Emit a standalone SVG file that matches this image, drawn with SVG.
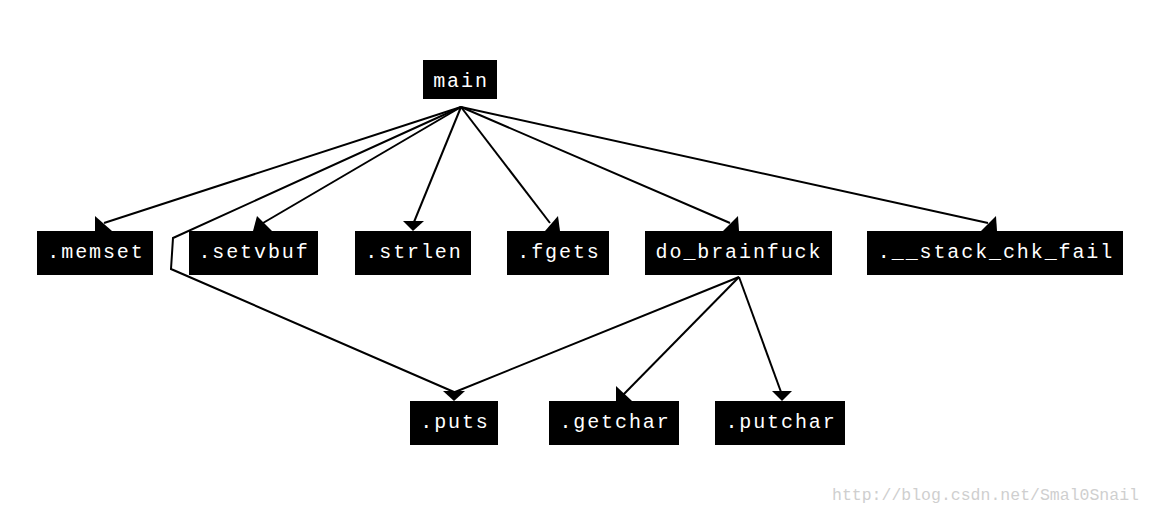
<svg xmlns="http://www.w3.org/2000/svg" width="1153" height="514" viewBox="0 0 1153 514">
<style>
.edge{fill:none;stroke:#000;stroke-width:2}
.ah{fill:#000;stroke:none}
.box{fill:#000}
.lbl{fill:#fff;font-family:"Liberation Mono",monospace;font-size:20px;letter-spacing:1.9px;text-anchor:middle}
.wm{fill:#cfcfcf;font-family:"Liberation Mono",monospace;font-size:16.5px}
</style>
<rect width="1153" height="514" fill="#fff"/>
<g id="edges">
<polyline class="edge" points="461,107 104,223"/>
<polyline class="edge" points="461,107 263,223"/>
<polyline class="edge" points="461,107 414,222"/>
<polyline class="edge" points="461,107 550,223"/>
<polyline class="edge" points="461,107 730,223"/>
<polyline class="edge" points="461,107 988,223"/>
<polyline class="edge" points="461,107 173,238 171,269 454,392"/>
<polyline class="edge" points="739,277 455,392"/>
<polyline class="edge" points="739,277 623,395"/>
<polyline class="edge" points="739,277 781,392"/>
<polygon class="ah" points="95,216 95,231 112,231"/>
<polygon class="ah" points="257,216 253,231 272,231"/>
<polygon class="ah" points="403,221 424,221 413,231"/>
<polygon class="ah" points="558,216 545,231 560,231"/>
<polygon class="ah" points="738,216 723,231 739,231"/>
<polygon class="ah" points="996,216 981,231 997,231"/>
<polygon class="ah" points="443,391 465,391 454,401"/>
<polygon class="ah" points="616,386 616,401 632,401"/>
<polygon class="ah" points="772,391 792,391 782,401"/>
</g>
<g id="main"><rect class="box" x="423" y="60" width="74" height="39"/><text class="lbl" x="461" y="87">main</text></g>
<g id="memset"><rect class="box" x="37" y="231" width="116" height="44"/><text class="lbl" x="96" y="258">.memset</text></g>
<g id="setvbuf"><rect class="box" x="189" y="231" width="129" height="44"/><text class="lbl" x="254" y="258">.setvbuf</text></g>
<g id="strlen"><rect class="box" x="355" y="231" width="116" height="44"/><text class="lbl" x="414" y="258">.strlen</text></g>
<g id="fgets"><rect class="box" x="507" y="231" width="102" height="44"/><text class="lbl" x="559" y="258">.fgets</text></g>
<g id="do_brainfuck"><rect class="box" x="645" y="231" width="187" height="44"/><text class="lbl" x="739" y="258">do_brainfuck</text></g>
<g id="stack_chk_fail"><rect class="box" x="867" y="231" width="256" height="44"/><text class="lbl" x="996" y="258">.__stack_chk_fail</text></g>
<g id="puts"><rect class="box" x="410" y="401" width="88" height="44"/><text class="lbl" x="455" y="428">.puts</text></g>
<g id="getchar"><rect class="box" x="549" y="401" width="130" height="44"/><text class="lbl" x="615" y="428">.getchar</text></g>
<g id="putchar"><rect class="box" x="715" y="401" width="130" height="44"/><text class="lbl" x="781" y="428">.putchar</text></g>
<text class="wm" x="832" y="500">http://blog.csdn.net/Smal0Snail</text>
</svg>
